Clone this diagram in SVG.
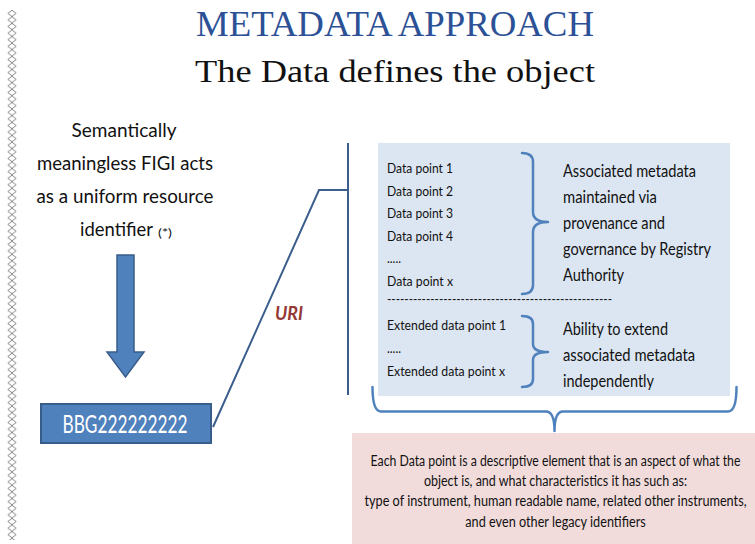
<svg xmlns="http://www.w3.org/2000/svg" width="755" height="544" viewBox="0 0 755 544">
<style>
.title1{font-family:"Liberation Serif",serif;font-size:35px;fill:#2C5196}
.title2{font-family:"Liberation Serif",serif;font-size:32px;fill:#111}
.lt{font-family:Lato,"Liberation Sans",sans-serif;font-size:18.5px;fill:#111;text-anchor:middle}
.dp{font-family:Lato,"Liberation Sans",sans-serif;font-size:13px;fill:#111}
.rt{font-family:Lato,"Liberation Sans",sans-serif;font-size:17px;fill:#111}
.pk{font-family:Lato,"Liberation Sans",sans-serif;font-size:15px;fill:#111;text-anchor:middle}
.conn{fill:none;stroke:#3B5E8C;stroke-width:2}
.brace{fill:none;stroke:#4F81BD;stroke-width:2.5;stroke-linecap:round;stroke-linejoin:round}
</style>
<defs>
<pattern id="chain" patternUnits="userSpaceOnUse" x="7" y="10" width="10" height="6.6">
<path d="M5,0.2 L9.2,3.3 L5,6.4 L0.8,3.3 Z" fill="none" stroke="#7a7a7a" stroke-width="0.9"/>
</pattern>
</defs>
<rect width="755" height="544" fill="#fff"/>
<rect x="7" y="10" width="10" height="530" fill="url(#chain)"/>

<g id="title">
<text class="title1" x="395" y="36" text-anchor="middle" textLength="398" lengthAdjust="spacingAndGlyphs">METADATA APPROACH</text>
<text class="title2" x="395" y="82" text-anchor="middle" textLength="400" lengthAdjust="spacingAndGlyphs">The Data defines the object</text>
</g>

<g id="figi-label">
<text class="lt" x="124" y="137" textLength="105" lengthAdjust="spacingAndGlyphs">Semantically</text>
<text class="lt" x="125" y="170" textLength="176" lengthAdjust="spacingAndGlyphs">meaningless FIGI acts</text>
<text class="lt" x="125" y="203" textLength="177" lengthAdjust="spacingAndGlyphs">as a uniform resource</text>
<text x="80" y="236" font-family="Lato,'Liberation Sans',sans-serif" font-size="18.5" fill="#111" textLength="73" lengthAdjust="spacingAndGlyphs">identifier</text>
<text x="158" y="237" font-family="Lato,'Liberation Sans',sans-serif" font-size="11" fill="#111" textLength="14" lengthAdjust="spacingAndGlyphs">(*)</text>
</g>

<g id="down-arrow">
<path d="M117,255 L134,255 L134,352 L144,352 L125.5,377 L107,352 L117,352 Z" fill="#4F81BD" stroke="#385D8A" stroke-width="1.5"/>
</g>

<g id="figi-box">
<rect x="41" y="404" width="170" height="39" fill="#4F81BD" stroke="#385D8A" stroke-width="2"/>
<text x="125" y="433" text-anchor="middle" font-family="Lato,'Liberation Sans',sans-serif" font-size="25" fill="#fff" textLength="125" lengthAdjust="spacingAndGlyphs">BBG222222222</text>
</g>

<g id="connectors">
<polyline class="conn" points="213,427 319,190 348,190"/>
<line class="conn" x1="348" y1="143" x2="348" y2="395"/>
<text x="275" y="320" font-family="Lato,'Liberation Sans',sans-serif" font-size="18" font-weight="bold" font-style="italic" fill="#953735" textLength="28" lengthAdjust="spacingAndGlyphs">URI</text>
</g>

<g id="metadata-panel">
<rect x="378" y="143" width="352" height="253" fill="#DCE6F2"/>
<text class="dp" x="387" y="173" textLength="66" lengthAdjust="spacingAndGlyphs">Data point 1</text>
<text class="dp" x="387" y="196" textLength="66" lengthAdjust="spacingAndGlyphs">Data point 2</text>
<text class="dp" x="387" y="218" textLength="66" lengthAdjust="spacingAndGlyphs">Data point 3</text>
<text class="dp" x="387" y="241" textLength="66" lengthAdjust="spacingAndGlyphs">Data point 4</text>
<text class="dp" x="387" y="263" textLength="14" lengthAdjust="spacingAndGlyphs">.....</text>
<text class="dp" x="387" y="286" textLength="66" lengthAdjust="spacingAndGlyphs">Data point x</text>
<path class="brace" d="M522,153 Q533,153 533,162 L533,212 Q533,222 548,222 Q533,222 533,232 L533,285 Q533,294 522,294"/>
<text class="rt" x="563" y="177" textLength="133" lengthAdjust="spacingAndGlyphs">Associated metadata</text>
<text class="rt" x="563" y="203" textLength="94" lengthAdjust="spacingAndGlyphs">maintained via</text>
<text class="rt" x="563" y="229" textLength="102" lengthAdjust="spacingAndGlyphs">provenance and</text>
<text class="rt" x="563" y="255" textLength="148" lengthAdjust="spacingAndGlyphs">governance by Registry</text>
<text class="rt" x="563" y="281" textLength="61" lengthAdjust="spacingAndGlyphs">Authority</text>
<text class="dp" x="387" y="304" textLength="225" lengthAdjust="spacingAndGlyphs">----------------------------------------------------</text>
<text class="dp" x="387" y="330" textLength="119" lengthAdjust="spacingAndGlyphs">Extended data point 1</text>
<text class="dp" x="387" y="353" textLength="14" lengthAdjust="spacingAndGlyphs">.....</text>
<text class="dp" x="387" y="376" textLength="118" lengthAdjust="spacingAndGlyphs">Extended data point x</text>
<path class="brace" d="M522,316 Q533,316 533,324 L533,344 Q533,352 548,352 Q533,352 533,360 L533,379 Q533,387 522,387"/>
<text class="rt" x="563" y="335" textLength="105" lengthAdjust="spacingAndGlyphs">Ability to extend</text>
<text class="rt" x="563" y="361" textLength="132" lengthAdjust="spacingAndGlyphs">associated metadata</text>
<text class="rt" x="563" y="387" textLength="91" lengthAdjust="spacingAndGlyphs">independently</text>
</g>

<g id="bottom-brace">
<path class="brace" d="M372.5,387 Q372.5,411.5 381,411.5 L546,411.5 Q554.5,411.5 554.5,431 Q554.5,411.5 563,411.5 L728,411.5 Q736.5,411.5 736.5,387"/>
</g>

<g id="description">
<rect x="352" y="433" width="403" height="111" fill="#F2DCDB"/>
<g transform="translate(555.5,0) scale(0.82,1)">
<text class="pk" x="0" y="466" textLength="451" lengthAdjust="spacingAndGlyphs">Each Data point is a descriptive element that is an aspect of what the</text>
<text class="pk" x="0" y="486" textLength="321" lengthAdjust="spacingAndGlyphs">object is, and what characteristics it has such as:</text>
<text class="pk" x="0" y="506" textLength="466" lengthAdjust="spacingAndGlyphs">type of instrument, human readable name, related other instruments,</text>
<text class="pk" x="0" y="527" textLength="220" lengthAdjust="spacingAndGlyphs">and even other legacy identifiers</text>
</g>
</g>
</svg>
